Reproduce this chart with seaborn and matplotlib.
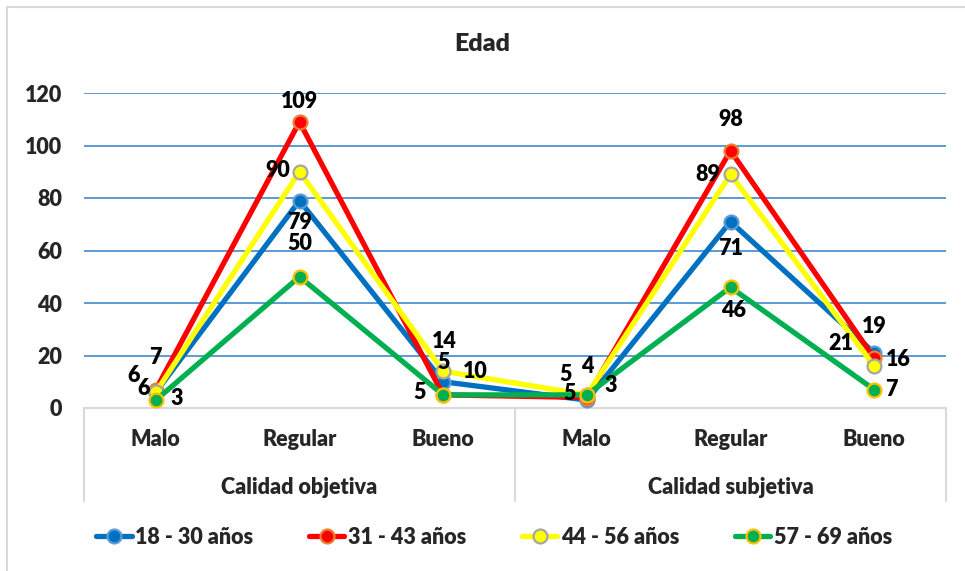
import matplotlib
matplotlib.use("Agg")
import matplotlib.pyplot as plt
from matplotlib.lines import Line2D
from matplotlib.patches import Rectangle
import matplotlib.transforms as mtransforms
import numpy as np
import pandas as pd
import seaborn as sns

# --- data -----------------------------------------------------------------
categorias = ["Malo", "Regular", "Bueno", "Malo", "Regular", "Bueno"]
dimensiones = ["Calidad objetiva", "Calidad subjetiva"]
grupos = ["18 - 30 años", "31 - 43 años", "44 - 56 años", "57 - 69 años"]
edad_18_30 = [6, 79, 10, 3, 71, 21]
edad_31_43 = [7, 109, 5, 4, 98, 19]
edad_44_56 = [6, 90, 14, 5, 89, 16]
edad_57_69 = [3, 50, 5, 5, 46, 7]
y_ticks = [0, 20, 40, 60, 80, 100, 120]

series = [edad_18_30, edad_31_43, edad_44_56, edad_57_69]

# --- styles ---------------------------------------------------------------
line_colors = ["#0070C0", "#FF0000", "#FFFF00", "#00B050"]
edge_colors = ["#5B9BD5", "#ED7D31", "#A5A5A5", "#FFC000"]
# label offsets (pixels, right / down) for each point of each series
label_offsets = [
    [(-12, -4), (0, 22), (32, -10), (24, -15), (0, 27), (-33, -9)],
    [(0, -32), (0, -20), (0, -32), (0, -31), (0, -31), (0, -32)],
    [(-22, -17), (-22, -1), (1, -30), (-21, -20), (-23, 0), (24, -7)],
    [(21, -2), (0, -33), (-24, -2), (-17, -1), (3, 23), (17, 0)],
]
FW = "heavy"
FS = 15.5

sns.set_theme(style="white")
plt.rcParams["font.family"] = ["Lato", "DejaVu Sans"]
plt.rcParams["font.weight"] = FW

W, H = 965, 571
fig = plt.figure(figsize=(W / 100, H / 100), dpi=100)
ax = fig.add_axes([84 / W, 1 - 408 / H, (946 - 84) / W, (408 - 93) / H])

pos = np.arange(len(categorias))
rows = []
for g, vals in zip(grupos, series):
    for p, v in zip(pos, vals):
        rows.append({"pos": p, "valor": v, "grupo": g})
df = pd.DataFrame(rows)

for i, g in enumerate(grupos):
    sub = df[df["grupo"] == g]
    sns.lineplot(data=sub, x="pos", y="valor", ax=ax, color=line_colors[i],
                 linewidth=3.8, marker="o", markersize=10,
                 markerfacecolor=line_colors[i], markeredgecolor=edge_colors[i],
                 markeredgewidth=1.6, clip_on=False, zorder=3 + i, legend=False)
    for p, v, (dx, dy) in zip(sub["pos"], sub["valor"], label_offsets[i]):
        ax.annotate(f"{v}", (p, v), xytext=(dx, -dy), textcoords="offset pixels",
                    ha="center", va="center", fontsize=FS, fontweight=FW,
                    color="black", zorder=10)

ax.set_xlim(-0.5, len(categorias) - 0.5)
ax.set_ylim(0, 120)
ax.set_yticks(y_ticks)
ax.set_yticklabels([str(t) for t in y_ticks], fontsize=FS, fontweight=FW)
ax.tick_params(axis="y", length=0, pad=16)
ax.set_xticks([])
ax.set_xlabel("")
ax.set_ylabel("")
for t in y_ticks[1:]:
    ax.axhline(t, color="#5B9BD5", linewidth=1.4, zorder=1)
for side in ["top", "right", "left"]:
    ax.spines[side].set_visible(False)
ax.spines["bottom"].set_color("#D9D9D9")
ax.spines["bottom"].set_linewidth(1.5)

# two-level category axis
trans = mtransforms.blended_transform_factory(ax.transData, ax.transAxes)
y_low = -(501 - 408) / 315
for xs in [-0.5, 2.5, 5.5]:
    ax.add_line(Line2D([xs, xs], [0, y_low], transform=trans, color="#D9D9D9",
                       linewidth=1.5, clip_on=False))
for p, c in zip(pos, categorias):
    ax.text(p, -(440 - 408) / 315, c, transform=trans, ha="center", va="center",
            fontsize=FS, fontweight=FW)
for k, d in enumerate(dimensiones):
    ax.text(1 + 3 * k, -(487 - 408) / 315, d, transform=trans, ha="center",
            va="center", fontsize=FS, fontweight=FW)

fig.text(0.5, 1 - 44 / H, "Edad", ha="center", va="center", fontsize=18,
         fontweight=FW)

handles = [Line2D([0], [0], color=line_colors[i], linewidth=3.8, marker="o",
                  markersize=10, markerfacecolor=line_colors[i],
                  markeredgecolor=edge_colors[i], markeredgewidth=1.6)
           for i in range(len(grupos))]
fig.legend(handles, grupos, loc="center", bbox_to_anchor=(494 / W, 1 - 537 / H),
           ncol=4, frameon=False, handlelength=1.65,
           handletextpad=0.15, columnspacing=2.6,
           prop={"weight": FW, "size": FS})

# chart frame
fig.patches.append(Rectangle((7 / W, -0.05), 1.2, 1 - 7 / H + 0.05,
                             transform=fig.transFigure, fill=False,
                             edgecolor="#D9D9D9", linewidth=1.5))

fig.savefig("out.png", dpi=100)
